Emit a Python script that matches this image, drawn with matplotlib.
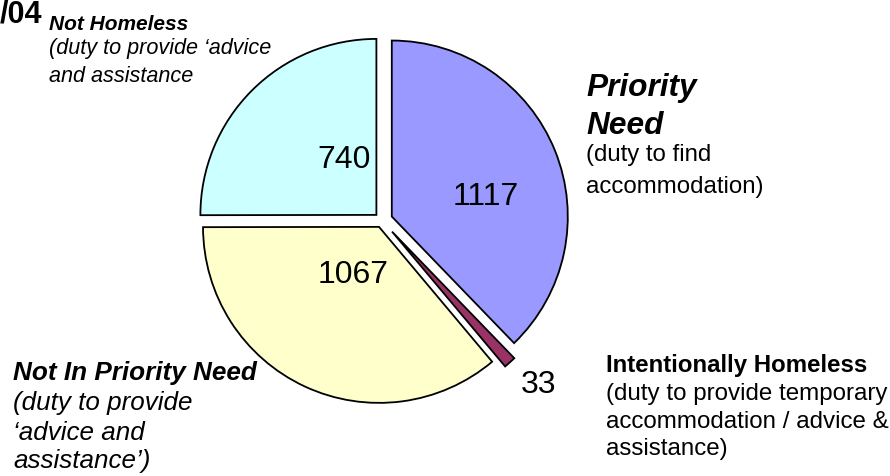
import matplotlib
matplotlib.use("Agg")
import matplotlib.pyplot as plt

plt.rcParams['font.family'] = ['Liberation Sans', 'DejaVu Sans']

# datos del grafico
categorias = ["Priority Need", "Intentionally Homeless", "Not In Priority Need", "Not Homeless"]
valores = [1117, 33, 1067, 740]
colores = ["#9999FF", "#993366", "#FFFFCC", "#CCFFFF"]
separacion = [0.06, 0.085, 0.04, 0.045]

# posicion de las etiquetas numericas (px: izquierda, linea base)
pos_valores = [(453, 205), (521, 393), (318, 283), (317, 168)]

W, H = 890, 477
CX, CY, R = 382, 221.5, 176  # centro y radio de la torta en px

fig = plt.figure(figsize=(W / 100, H / 100), dpi=100)
ax = fig.add_axes([0, 0, 1, 1])
ax.pie(valores, colors=colores, explode=separacion, startangle=90,
       counterclock=False, radius=1,
       wedgeprops=dict(edgecolor="black", linewidth=1.3))
ax.set_xlim(-CX / R, (W - CX) / R)
ax.set_ylim(-(H - CY) / R, CY / R)
ax.set_aspect("auto")
ax.axis("off")


def txt(x, y, s, size, weight="normal", style="normal", ha="left"):
    fig.text(x / W, 1 - y / H, s, fontsize=size, fontweight=weight,
             fontstyle=style, ha=ha, va="baseline")


#///////// VALORES ///////////
for v, (x, y) in zip(valores, pos_valores):
    txt(x, y, str(v), 23)

#///////// ETIQUETAS ///////////
txt(0, 22.7, "/04", 22, weight="bold")

txt(49, 30, "Not Homeless", 15, weight="bold", style="italic")
txt(49, 54.3, "(duty to provide \u2018advice", 15.6, style="italic")
txt(49, 81.7, "and assistance", 15.6, style="italic")

txt(586, 96, "Priority", 22.8, weight="bold", style="italic")
txt(586, 134, "Need", 22.8, weight="bold", style="italic")
txt(586, 160.7, "(duty to find", 17.3)
txt(586, 193, "accommodation)", 17.3)

txt(606, 371.7, "Intentionally Homeless", 17.3, weight="bold")
txt(606, 400, "(duty to provide temporary", 17.4)
txt(606, 428.3, "accommodation / advice &", 17.4)
txt(606, 455, "assistance)", 17.4)

txt(13, 380, "Not In Priority Need", 18.8, weight="bold", style="italic")
txt(13, 410, "(duty to provide", 18.7, style="italic")
txt(13, 440, "\u2018advice and", 18.7, style="italic")
txt(13, 468.3, "assistance\u2019)", 18.7, style="italic")

fig.savefig("out.png", dpi=100)
